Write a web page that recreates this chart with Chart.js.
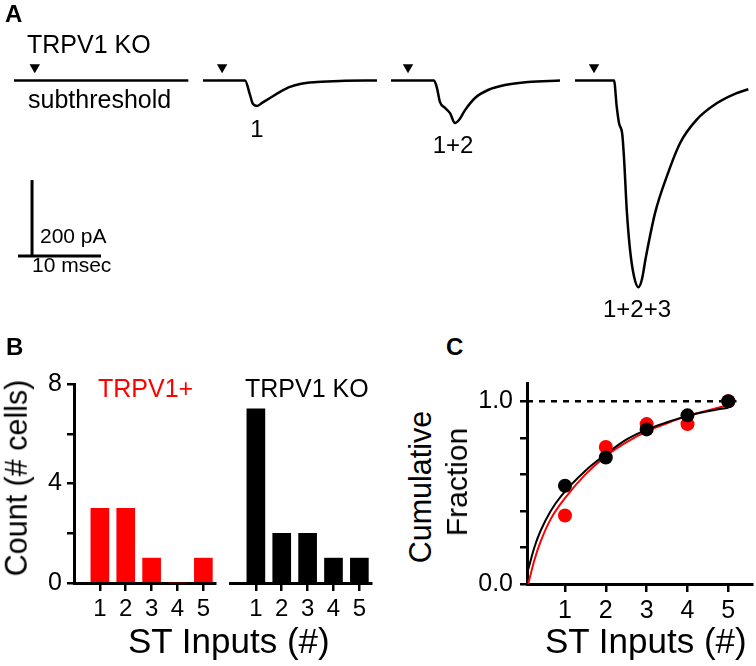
<!DOCTYPE html>
<html>
<head>
<meta charset="utf-8">
<script src="https://cdn.jsdelivr.net/npm/chart.js@4.4.1/dist/chart.umd.min.js"></script>
<style>
html, body { margin: 0; padding: 0; background: #fff; }
#fig { position: relative; width: 756px; height: 666px; overflow: hidden; font-family: 'Liberation Sans', Arial, sans-serif; color: #000; }
canvas { position: absolute; }
.lbl { position: absolute; white-space: nowrap; line-height: 1; }
</style>
</head>
<body>
<div id="fig">
  <canvas id="chartA" width="756" height="330" style="left:0;top:0"></canvas>
  <canvas id="chartB1" width="200" height="264" style="left:24px;top:359px"></canvas>
  <canvas id="chartB2" width="155" height="264" style="left:225px;top:359px"></canvas>
  <canvas id="chartC" width="286" height="272" style="left:470px;top:358px"></canvas>
</div>
<script>
// ---- panel A: evoked currents (ms, pA) ----
const sweepLabels = ['subthreshold', '1', '1+2', '1+2+3'];
const sweepStart = [1.69, 24.46, 47.11, 69.28];   // where each sweep sits on the panel (ms)
const stimTime = [2.5, 2.3, 2.05, 2.29];
const traceT = [
  [0, 21],
  [0, 5.06, 5.66, 6.02, 6.51, 7.11, 8.07, 9.28, 10.48, 11.69, 13.73, 16.5, 20.96],
  [0, 5.18, 5.54, 5.9, 6.51, 7.11, 7.71, 8.19, 8.92, 10.12, 11.69, 13.73, 16.51, 20.36],
  [0, 4.7, 5.02, 5.3, 5.7, 5.94, 6.23, 6.63, 7.11, 7.63, 8.04, 8.55, 9.64, 11.05, 12.65, 14.66, 17.07, 19.48, 20.88]
];
const traceI = [
  [0, 0],
  [0, 0, -38, -62, -67, -59, -46, -30, -17, -9, -4, -1, 0],
  [0, 0, -20, -57, -72, -86, -112, -104, -78, -46, -25, -12, -4, 0],
  [0, 0, -68, -112, -143, -218, -340, -446, -516, -544, -525, -463, -349, -253, -165, -103, -60, -33, -23]
];
const scaleBarMs = 10;
const scaleBarPA = 200;

// ---- panel B: number of ST inputs ----
const stInputs = [1, 2, 3, 4, 5];
const countTRPV1 = [3, 3, 1, 0, 1];
const countKO = [7, 2, 2, 1, 1];
const countTickMarks = [0, 1, 2, 3, 4, 5, 6, 7, 8];
const countTickLabels = [0, 4, 8];

// ---- panel C: cumulative fraction ----
const cumTRPV1 = [0.375, 0.75, 0.875, 0.875, 1.0];
const cumKO = [0.538, 0.692, 0.846, 0.923, 1.0];
const fitKOx = [0.1, 0.25, 0.4, 0.65, 0.9, 1.5, 2, 2.5, 3, 3.5, 4, 4.5, 5];
const fitKOy = [0.08, 0.2, 0.29, 0.40, 0.48, 0.62, 0.71, 0.79, 0.845, 0.885, 0.92, 0.945, 0.965];
const fitTRPx = [0.1, 0.25, 0.4, 0.65, 1, 1.5, 2, 2.5, 3, 3.5, 4, 4.5, 5];
const fitTRPy = [0.0, 0.13, 0.23, 0.355, 0.47, 0.6, 0.7, 0.775, 0.835, 0.88, 0.92, 0.95, 0.98];
const fracTickMarks = [0, 0.1, 0.2, 0.3, 0.4, 0.5, 0.6, 0.7, 0.8, 0.9, 1.0];
const fracTickLabels = [0, 0.5, 1.0];

const RED = '#f00';
const FONT = "'Liberation Sans', Arial, sans-serif";

Chart.defaults.font.family = FONT;
Chart.defaults.color = '#000';
const base = {
  responsive: false,
  animation: false,
  events: [],
  plugins: { legend: { display: false }, tooltip: { enabled: false } }
};

// text labels
const fig = document.getElementById('fig');
function label(txt, x, y, size, o = {}) {
  const d = document.createElement('div');
  d.className = 'lbl';
  d.textContent = txt;
  d.style.fontSize = size + 'px';
  if (o.bold) d.style.fontWeight = 'bold';
  if (o.color) d.style.color = o.color;
  d.style.left = x + 'px';
  if (o.rotate) {
    d.style.top = y + 'px';
    d.style.transform = 'translate(-50%,-50%) rotate(-90deg)';
  } else {
    d.style.top = (y - 0.8465 * size) + 'px';   // y is the baseline
    if (o.center) d.style.transform = 'translateX(-50%)';
  }
  fig.appendChild(d);
}

// ---------- A ----------
const pxPerMs = 8.3, pxPerPA = 0.38;
const aDatasets = traceT.map((ts, i) => ({
  data: ts.map((t, j) => ({ x: sweepStart[i] + t, y: traceI[i][j] })),
  borderColor: '#000', borderWidth: 2.5, pointRadius: 0,
  cubicInterpolationMode: 'monotone', fill: false
}));
aDatasets.push({
  data: stimTime.map((s, i) => ({ x: sweepStart[i] + s, y: 35 })),
  showLine: false, pointStyle: 'triangle', rotation: 180, pointRadius: 6,
  backgroundColor: '#000', borderWidth: 0
});
const sbT = 3.86, sbI = -462;
aDatasets.push({
  data: [{ x: sbT, y: sbI }, { x: sbT, y: sbI + scaleBarPA }],
  borderColor: '#000', borderWidth: 3, pointRadius: 0
});
aDatasets.push({
  data: [{ x: sbT - 1.69, y: sbI }, { x: sbT - 1.69 + scaleBarMs, y: sbI }],
  borderColor: '#000', borderWidth: 3, pointRadius: 0
});
new Chart(document.getElementById('chartA'), {
  type: 'line',
  data: { datasets: aDatasets },
  options: Object.assign({}, base, {
    layout: { padding: 0, autoPadding: false },
    scales: {
      x: { type: 'linear', display: false, min: 0, max: 756 / pxPerMs },
      y: { type: 'linear', display: false, min: -249.5 / pxPerPA, max: 80.5 / pxPerPA }
    }
  })
});

// ---------- B ----------
function barChart(id, vals, color, showY, pad) {
  const yScale = {
    display: showY, min: 0, max: 8,
    afterBuildTicks: s => { s.ticks = countTickMarks.map(v => ({ value: v })); },
    border: { display: true, color: '#000', width: 3 },
    grid: { display: true, drawOnChartArea: false, drawTicks: true, tickLength: 7, color: '#000', lineWidth: 2.5 },
    ticks: {
      font: { size: 25 }, color: '#000', padding: 5,
      callback: v => countTickLabels.includes(v) ? String(v) : ''
    }
  };
  if (showY) yScale.afterFit = s => { s.width = 50; };
  return new Chart(document.getElementById(id), {
    type: 'bar',
    data: {
      datasets: [{
        data: stInputs.map((x, i) => ({ x: x, y: vals[i] })),
        backgroundColor: color, borderWidth: 0, barThickness: 18
      }]
    },
    options: Object.assign({}, base, {
      layout: { padding: pad, autoPadding: false },
      scales: {
        x: {
          type: 'linear', min: 0, max: 5.45, offset: false,
          afterBuildTicks: s => { s.ticks = stInputs.map(v => ({ value: v })); },
          afterFit: s => { s.height = 40; },
          border: { display: true, color: '#000', width: 3 },
          grid: { display: true, drawOnChartArea: false, drawTicks: true, tickLength: 8, color: '#000', lineWidth: 2.5, offset: false },
          ticks: { font: { size: 24 }, color: '#000', padding: 4, maxRotation: 0, autoSkip: false }
        },
        y: yScale
      }
    })
  });
}
barChart('chartB1', countTRPV1, RED, true, { top: 25, right: 9, left: 0, bottom: 0 });
barChart('chartB2', countKO, '#000', false, { top: 25, right: 9, left: 5, bottom: 0 });

// ---------- C ----------
const pts = (xs, ys) => xs.map((x, i) => ({ x: x, y: ys[i] }));
new Chart(document.getElementById('chartC'), {
  type: 'scatter',
  data: {
    datasets: [
      { data: pts(stInputs, cumKO), backgroundColor: '#000', borderWidth: 0, pointRadius: 7 },
      { data: pts(stInputs, cumTRPV1), backgroundColor: RED, borderWidth: 0, pointRadius: 7 },
      { data: pts(fitKOx, fitKOy), showLine: true, borderColor: '#000', borderWidth: 2, pointRadius: 0, cubicInterpolationMode: 'monotone' },
      { data: pts(fitTRPx, fitTRPy), showLine: true, borderColor: RED, borderWidth: 2, pointRadius: 0, cubicInterpolationMode: 'monotone' },
      { data: [{ x: 0.07, y: 1 }, { x: 5.2, y: 1 }], showLine: true, borderColor: '#000', borderWidth: 2.5, borderDash: [6, 6], pointRadius: 0 }
    ]
  },
  options: Object.assign({}, base, {
    layout: { padding: { top: 25, right: 4, left: 0, bottom: 0 }, autoPadding: false },
    scales: {
      x: {
        type: 'linear', min: 0.07, max: 5.58,
        afterBuildTicks: s => { s.ticks = stInputs.map(v => ({ value: v })); },
        afterFit: s => { s.height = 46; },
        border: { display: true, color: '#000', width: 3 },
        grid: { display: true, drawOnChartArea: false, drawTicks: true, tickLength: 8, color: '#000', lineWidth: 2.5 },
        ticks: { font: { size: 25 }, color: '#000', padding: 4, maxRotation: 0, autoSkip: false }
      },
      y: {
        type: 'linear', min: 0, max: 1.1,
        afterBuildTicks: s => { s.ticks = fracTickMarks.map(v => ({ value: v })); },
        afterFit: s => { s.width = 57; },
        border: { display: true, color: '#000', width: 3 },
        grid: { display: true, drawOnChartArea: false, drawTicks: true, tickLength: 7, color: '#000', lineWidth: 2.5 },
        ticks: {
          font: { size: 25 }, color: '#000', padding: 7,
          callback: v => fracTickLabels.includes(v) ? v.toFixed(1) : ''
        }
      }
    }
  })
});

// ---------- text ----------
label('A', 5, 22, 24, { bold: true });
label('TRPV1 KO', 27, 53, 25);
label(sweepLabels[0], 28, 108, 25);
label(sweepLabels[1], 257, 137, 24, { center: true });
label(sweepLabels[2], 453, 153, 24, { center: true });
label(sweepLabels[3], 637, 317, 24, { center: true });
label(scaleBarPA + ' pA', 40, 243, 21);
label(scaleBarMs + ' msec', 32, 272, 21);

label('B', 6, 355, 24, { bold: true });
label('TRPV1+', 98, 397, 25, { color: RED });
label('TRPV1 KO', 245, 397, 25);
label('ST Inputs (#)', 128, 653, 35);
label('Count (# cells)', 16, 478, 30.5, { rotate: true });

label('C', 446, 355, 24, { bold: true });
label('ST Inputs (#)', 545, 653, 35);
label('Cumulative', 420, 487, 30.5, { rotate: true });
label('Fraction', 457, 482, 30, { rotate: true });
</script>
</body>
</html>
